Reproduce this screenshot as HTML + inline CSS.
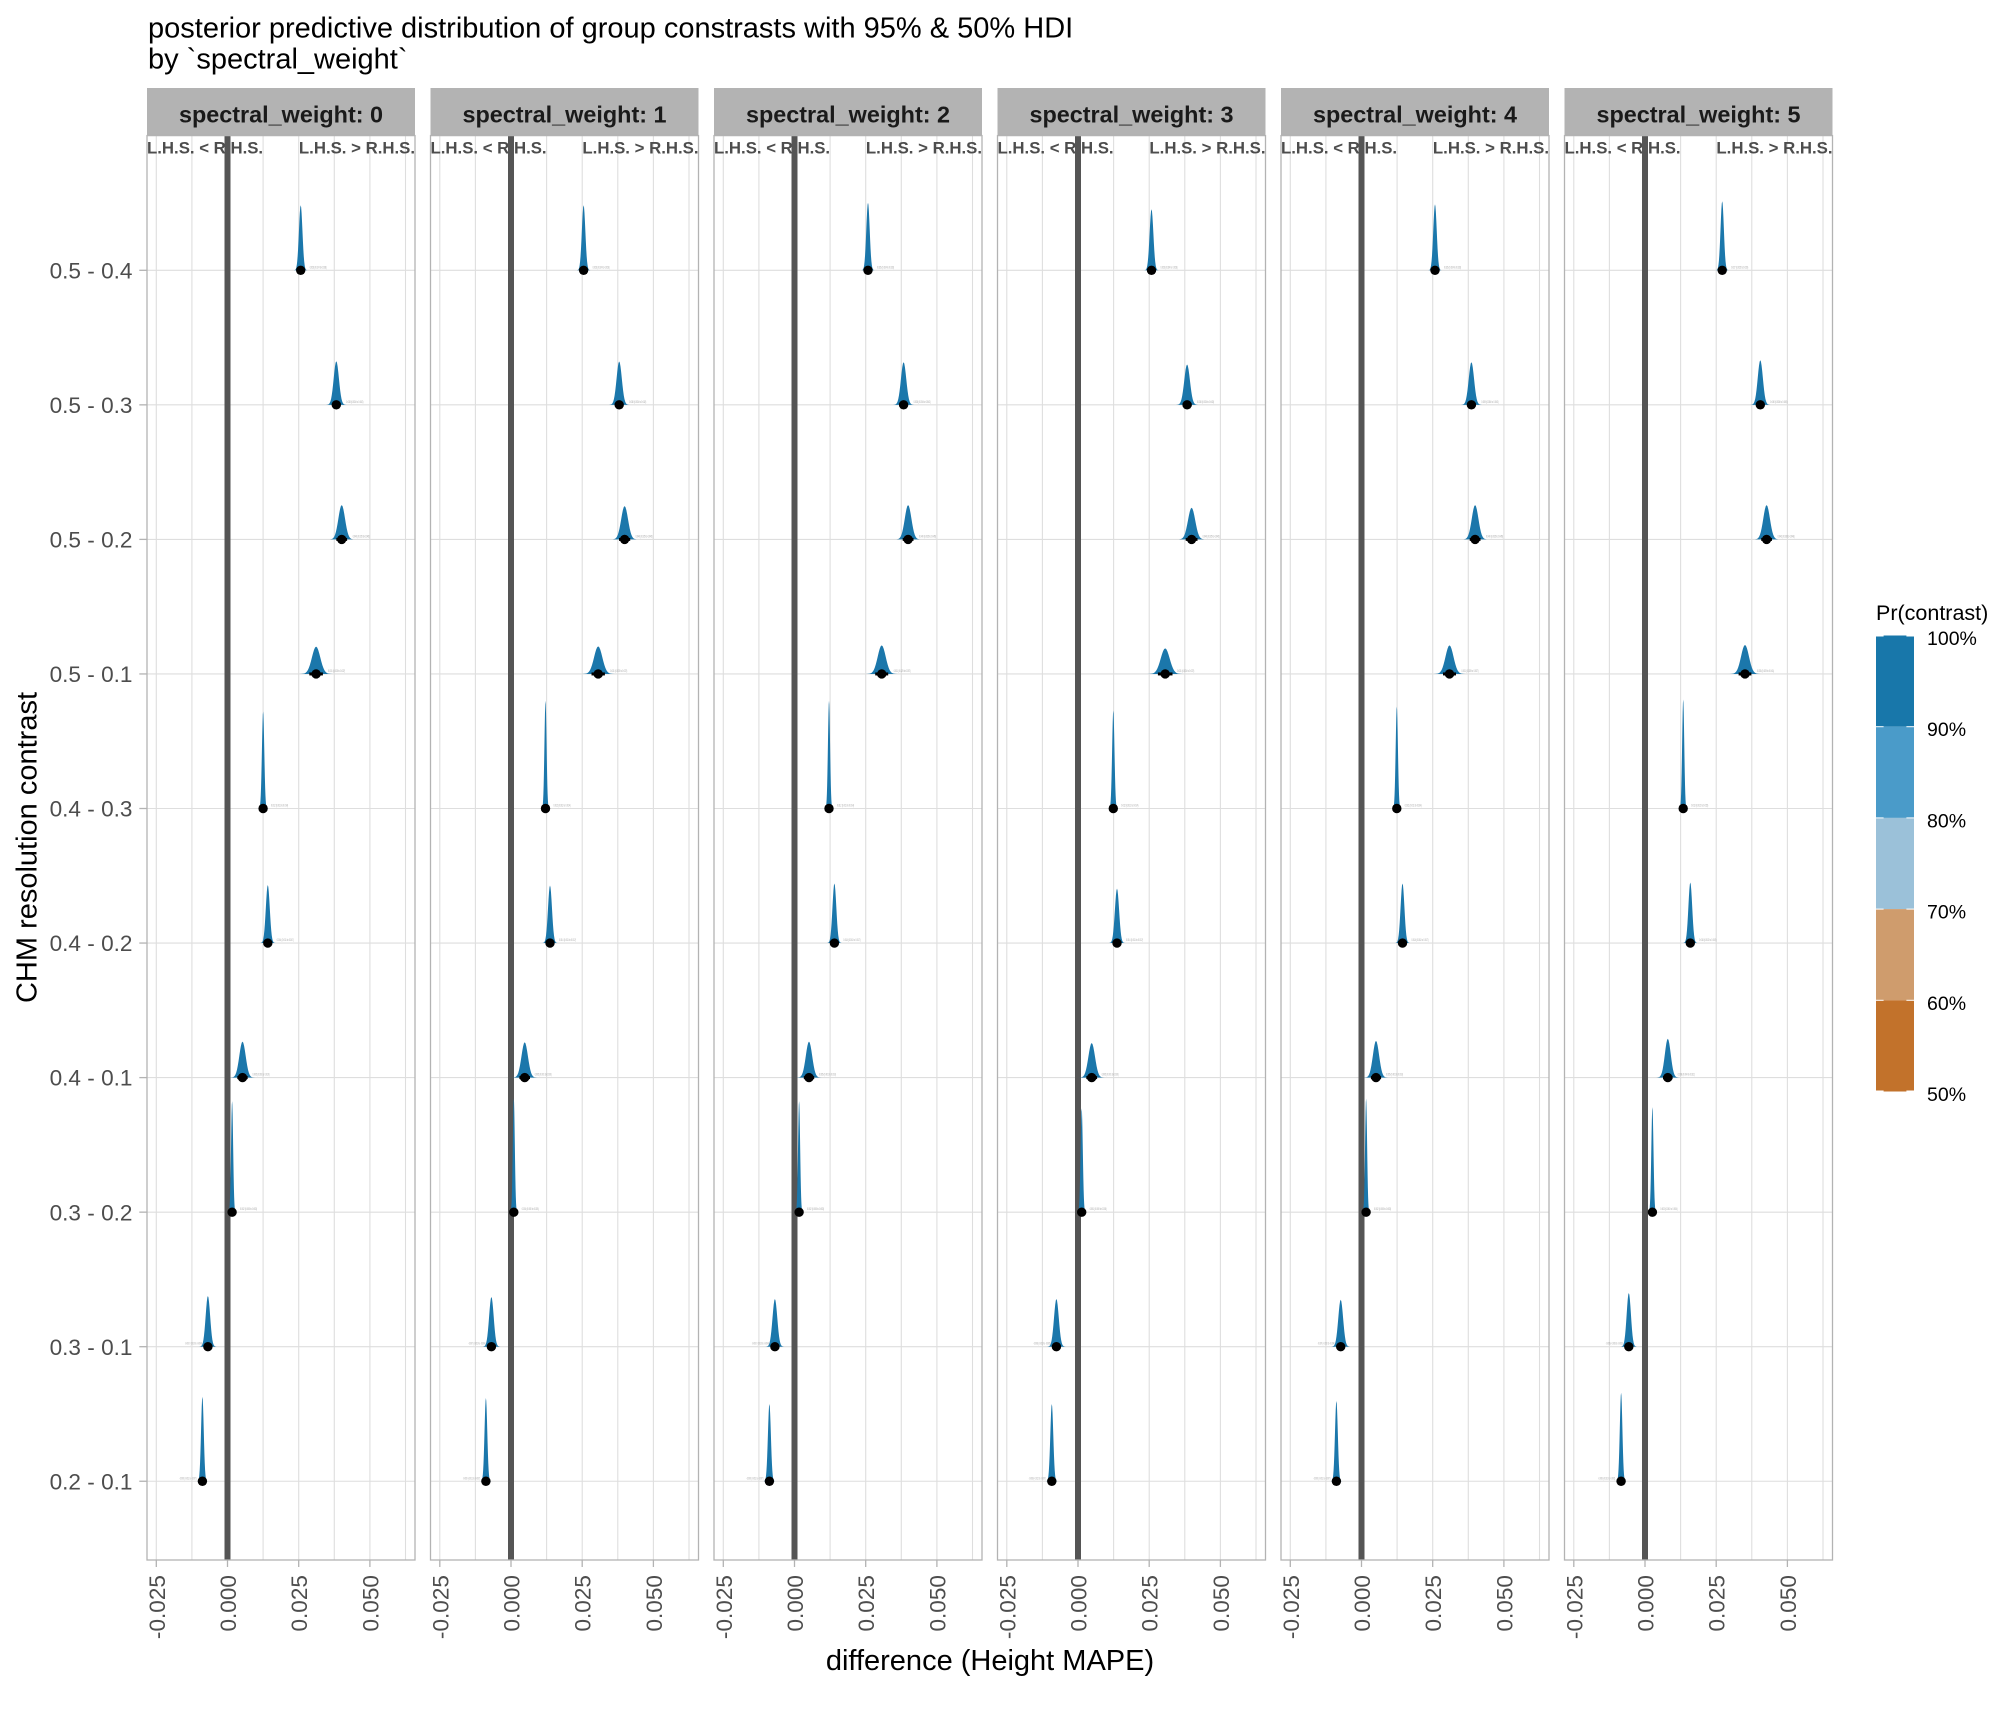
<!DOCTYPE html>
<html><head><meta charset="utf-8"><style>
html,body{margin:0;padding:0;background:#fff;}
svg{display:block;font-family:"Liberation Sans",Arial,sans-serif;}
.gm{stroke:#dedede;stroke-width:1.1;}
.tk{stroke:#b3b3b3;stroke-width:1.3;}
.ax{font-size:22.6px;fill:#4d4d4d;}
.st{font-size:23.4px;font-weight:bold;fill:#1a1a1a;text-anchor:middle;}
.lh{font-size:16.8px;font-weight:bold;fill:#4d4d4d;}
.i95{stroke:#000;stroke-width:3;}
.tl{font-size:3.6px;fill:#a0a0a0;}
.d{fill:#1b77ab;}
</style></head><body>
<svg xmlns="http://www.w3.org/2000/svg" xmlns:xlink="http://www.w3.org/1999/xlink" width="2016" height="1728" viewBox="0 0 2016 1728">
<defs>
<path id="g" d="M-4.8,0 L-4.2,-0.0022 L-3.6,-0.0111 L-3.3,-0.0228 L-3,-0.0439 L-2.7,-0.0796 L-2.4,-0.1353 L-2.1,-0.2163 L-1.8,-0.3247 L-1.5,-0.4578 L-1.2,-0.6065 L-0.9,-0.7548 L-0.6,-0.8825 L-0.3,-0.9692 L0,-1 L0.3,-0.9692 L0.6,-0.8825 L0.9,-0.7548 L1.2,-0.6065 L1.5,-0.4578 L1.8,-0.3247 L2.1,-0.2163 L2.4,-0.1353 L2.7,-0.0796 L3,-0.0439 L3.3,-0.0228 L3.6,-0.0111 L4.2,-0.0022 L4.8,0 Z"/>
<g id="frame">
<rect x="147" y="88" width="268" height="47.5" fill="#b3b3b3"/>
<g class="gm">
<line x1="156.3" y1="136" x2="156.3" y2="1560"/>
<line x1="191.9" y1="136" x2="191.9" y2="1560"/>
<line x1="227.5" y1="136" x2="227.5" y2="1560"/>
<line x1="263.1" y1="136" x2="263.1" y2="1560"/>
<line x1="298.7" y1="136" x2="298.7" y2="1560"/>
<line x1="334.3" y1="136" x2="334.3" y2="1560"/>
<line x1="369.9" y1="136" x2="369.9" y2="1560"/>
<line x1="405.5" y1="136" x2="405.5" y2="1560"/>
<line x1="147" y1="270.3" x2="415" y2="270.3"/>
<line x1="147" y1="404.85" x2="415" y2="404.85"/>
<line x1="147" y1="539.4" x2="415" y2="539.4"/>
<line x1="147" y1="673.95" x2="415" y2="673.95"/>
<line x1="147" y1="808.5" x2="415" y2="808.5"/>
<line x1="147" y1="943.05" x2="415" y2="943.05"/>
<line x1="147" y1="1077.6" x2="415" y2="1077.6"/>
<line x1="147" y1="1212.15" x2="415" y2="1212.15"/>
<line x1="147" y1="1346.7" x2="415" y2="1346.7"/>
<line x1="147" y1="1481.25" x2="415" y2="1481.25"/>
</g>
<g class="tk">
<line x1="156.3" y1="1560" x2="156.3" y2="1567"/>
<line x1="227.5" y1="1560" x2="227.5" y2="1567"/>
<line x1="298.7" y1="1560" x2="298.7" y2="1567"/>
<line x1="369.9" y1="1560" x2="369.9" y2="1567"/>
</g>
</g>
<g id="zl"><rect x="224.5" y="136" width="6" height="1424" fill="#555555"/></g>
<g id="bd"><rect x="147" y="135.6" width="268" height="1424.4" fill="none" stroke="#b3b3b3" stroke-width="1.3"/></g>
</defs>
<rect width="2016" height="1728" fill="#fff"/>

<!-- title -->
<text x="148" y="37.5" font-size="29" fill="#000">posterior predictive distribution of group constrasts with 95% &amp; 50% HDI</text>
<text x="148" y="68.5" font-size="29" fill="#000">by `spectral_weight`</text>

<!-- panel frames -->
<use xlink:href="#frame"/>
<use xlink:href="#frame" transform="translate(283.5,0)"/>
<use xlink:href="#frame" transform="translate(567,0)"/>
<use xlink:href="#frame" transform="translate(850.5,0)"/>
<use xlink:href="#frame" transform="translate(1134,0)"/>
<use xlink:href="#frame" transform="translate(1417.5,0)"/>

<!-- strip text -->
<text class="st" x="281" y="122.7">spectral_weight: 0</text>
<text class="st" x="564.5" y="122.7">spectral_weight: 1</text>
<text class="st" x="848" y="122.7">spectral_weight: 2</text>
<text class="st" x="1131.5" y="122.7">spectral_weight: 3</text>
<text class="st" x="1415" y="122.7">spectral_weight: 4</text>
<text class="st" x="1698.5" y="122.7">spectral_weight: 5</text>

<!-- LHS/RHS labels -->
<g class="lh">
<text x="147" y="153.5">L.H.S. &lt; R.H.S.</text><text x="415" y="153.5" text-anchor="end">L.H.S. &gt; R.H.S.</text>
<text x="430.5" y="153.5">L.H.S. &lt; R.H.S.</text><text x="698.5" y="153.5" text-anchor="end">L.H.S. &gt; R.H.S.</text>
<text x="714" y="153.5">L.H.S. &lt; R.H.S.</text><text x="982" y="153.5" text-anchor="end">L.H.S. &gt; R.H.S.</text>
<text x="997.5" y="153.5">L.H.S. &lt; R.H.S.</text><text x="1265.5" y="153.5" text-anchor="end">L.H.S. &gt; R.H.S.</text>
<text x="1281" y="153.5">L.H.S. &lt; R.H.S.</text><text x="1549" y="153.5" text-anchor="end">L.H.S. &gt; R.H.S.</text>
<text x="1564.5" y="153.5">L.H.S. &lt; R.H.S.</text><text x="1832.5" y="153.5" text-anchor="end">L.H.S. &gt; R.H.S.</text>
</g>

<!-- zero lines -->
<use xlink:href="#zl"/>
<use xlink:href="#zl" transform="translate(283.5,0)"/>
<use xlink:href="#zl" transform="translate(567,0)"/>
<use xlink:href="#zl" transform="translate(850.5,0)"/>
<use xlink:href="#zl" transform="translate(1134,0)"/>
<use xlink:href="#zl" transform="translate(1417.5,0)"/>

<!-- distributions: Panel 0 -->
<g>
<g transform="translate(300.7,270.3)"><use class="d" xlink:href="#g" transform="scale(1.46,65)"/><path class="i95" d="M-2.9,0H2.9"/><circle r="4.7"/><text class="tl" x="9" y="-2" textLength="17" lengthAdjust="spacingAndGlyphs">0.026 (0.024 to 0.028)</text></g>
<g transform="translate(336.3,404.85)"><use class="d" xlink:href="#g" transform="scale(2.18,43.6)"/><path class="i95" d="M-4.3,0H4.3"/><circle r="4.7"/><text class="tl" x="10" y="-2" textLength="17" lengthAdjust="spacingAndGlyphs">0.038 (0.034 to 0.042)</text></g>
<g transform="translate(341.7,539.4)"><use class="d" xlink:href="#g" transform="scale(2.77,34.3)"/><path class="i95" d="M-5.4,0H5.4"/><circle r="4.7"/><text class="tl" x="11" y="-2" textLength="17" lengthAdjust="spacingAndGlyphs">0.040 (0.035 to 0.045)</text></g>
<g transform="translate(316.1,673.95)"><use class="d" xlink:href="#g" transform="scale(3.48,27.3)"/><path class="i95" d="M-6.8,0H6.8"/><circle r="4.7"/><text class="tl" x="12" y="-2" textLength="17" lengthAdjust="spacingAndGlyphs">0.031 (0.025 to 0.037)</text></g>
<g transform="translate(263.1,808.5)"><use class="d" xlink:href="#g" transform="scale(0.98,97)"/><path class="i95" d="M-1.9,0H1.9"/><circle r="4.7"/><text class="tl" x="8" y="-2" textLength="17" lengthAdjust="spacingAndGlyphs">0.012 (0.011 to 0.014)</text></g>
<g transform="translate(267.8,943.05)"><use class="d" xlink:href="#g" transform="scale(1.64,58)"/><path class="i95" d="M-3.2,0H3.2"/><circle r="4.7"/><text class="tl" x="9" y="-2" textLength="17" lengthAdjust="spacingAndGlyphs">0.014 (0.011 to 0.017)</text></g>
<g transform="translate(242.5,1077.6)"><use class="d" xlink:href="#g" transform="scale(2.64,36)"/><path class="i95" d="M-5.2,0H5.2"/><circle r="4.7"/><text class="tl" x="10" y="-2" textLength="17" lengthAdjust="spacingAndGlyphs">0.005 (0.001 to 0.010)</text></g>
<g transform="translate(232.1,1212.15)"><use class="d" xlink:href="#g" transform="scale(0.86,111)"/><path class="i95" d="M-1.7,0H1.7"/><circle r="4.7"/><text class="tl" x="8" y="-2" textLength="17" lengthAdjust="spacingAndGlyphs">0.002 (0.000 to 0.003)</text></g>
<g transform="translate(207.9,1346.7)"><use class="d" xlink:href="#g" transform="scale(1.87,50.7)"/><path class="i95" d="M-3.7,0H3.7"/><circle r="4.7"/><text class="tl" x="-6" y="-2" text-anchor="end" textLength="17" lengthAdjust="spacingAndGlyphs">-0.007 (-0.010 to -0.004)</text></g>
<g transform="translate(202.4,1481.25)"><use class="d" xlink:href="#g" transform="scale(1.12,84.5)"/><path class="i95" d="M-2.2,0H2.2"/><circle r="4.7"/><text class="tl" x="-6" y="-2" text-anchor="end" textLength="17" lengthAdjust="spacingAndGlyphs">-0.009 (-0.011 to -0.007)</text></g>
</g>

<!-- Panel 1 -->
<g transform="translate(-1,0)">
<g transform="translate(584.6,270.3)"><use class="d" xlink:href="#g" transform="scale(1.46,65)"/><path class="i95" d="M-2.9,0H2.9"/><circle r="4.7"/><text class="tl" x="9" y="-2" textLength="17" lengthAdjust="spacingAndGlyphs">0.026 (0.024 to 0.028)</text></g>
<g transform="translate(620.2,404.85)"><use class="d" xlink:href="#g" transform="scale(2.19,43.3)"/><path class="i95" d="M-4.3,0H4.3"/><circle r="4.7"/><text class="tl" x="10" y="-2" textLength="17" lengthAdjust="spacingAndGlyphs">0.038 (0.034 to 0.042)</text></g>
<g transform="translate(625.6,539.4)"><use class="d" xlink:href="#g" transform="scale(2.85,33.3)"/><path class="i95" d="M-5.6,0H5.6"/><circle r="4.7"/><text class="tl" x="11" y="-2" textLength="17" lengthAdjust="spacingAndGlyphs">0.040 (0.035 to 0.045)</text></g>
<g transform="translate(599.2,673.95)"><use class="d" xlink:href="#g" transform="scale(3.44,27.6)"/><path class="i95" d="M-6.7,0H6.7"/><circle r="4.7"/><text class="tl" x="12" y="-2" textLength="17" lengthAdjust="spacingAndGlyphs">0.031 (0.025 to 0.037)</text></g>
<g transform="translate(546.5,808.5)"><use class="d" xlink:href="#g" transform="scale(0.88,107.7)"/><path class="i95" d="M-1.7,0H1.7"/><circle r="4.7"/><text class="tl" x="8" y="-2" textLength="17" lengthAdjust="spacingAndGlyphs">0.012 (0.011 to 0.014)</text></g>
<g transform="translate(551,943.05)"><use class="d" xlink:href="#g" transform="scale(1.65,57.5)"/><path class="i95" d="M-3.2,0H3.2"/><circle r="4.7"/><text class="tl" x="9" y="-2" textLength="17" lengthAdjust="spacingAndGlyphs">0.014 (0.011 to 0.017)</text></g>
<g transform="translate(525.7,1077.6)"><use class="d" xlink:href="#g" transform="scale(2.69,35.3)"/><path class="i95" d="M-5.3,0H5.3"/><circle r="4.7"/><text class="tl" x="10" y="-2" textLength="17" lengthAdjust="spacingAndGlyphs">0.005 (0.001 to 0.010)</text></g>
<g transform="translate(514.8,1212.15)"><use class="d" xlink:href="#g" transform="scale(0.84,113.5)"/><path class="i95" d="M-1.6,0H1.6"/><circle r="4.7"/><text class="tl" x="8" y="-2" textLength="17" lengthAdjust="spacingAndGlyphs">0.001 (0.000 to 0.003)</text></g>
<g transform="translate(492.4,1346.7)"><use class="d" xlink:href="#g" transform="scale(1.91,49.7)"/><path class="i95" d="M-3.7,0H3.7"/><circle r="4.7"/><text class="tl" x="-6" y="-2" text-anchor="end" textLength="17" lengthAdjust="spacingAndGlyphs">-0.007 (-0.010 to -0.004)</text></g>
<g transform="translate(486.9,1481.25)"><use class="d" xlink:href="#g" transform="scale(1.14,83.2)"/><path class="i95" d="M-2.2,0H2.2"/><circle r="4.7"/><text class="tl" x="-6" y="-2" text-anchor="end" textLength="17" lengthAdjust="spacingAndGlyphs">-0.009 (-0.011 to -0.007)</text></g>
</g>

<!-- Panel 2 -->
<g transform="translate(-2,0)">
<g transform="translate(870,270.3)"><use class="d" xlink:href="#g" transform="scale(1.41,67.6)"/><path class="i95" d="M-2.8,0H2.8"/><circle r="4.7"/><text class="tl" x="9" y="-2" textLength="17" lengthAdjust="spacingAndGlyphs">0.026 (0.024 to 0.028)</text></g>
<g transform="translate(905.6,404.85)"><use class="d" xlink:href="#g" transform="scale(2.23,42.6)"/><path class="i95" d="M-4.4,0H4.4"/><circle r="4.7"/><text class="tl" x="10" y="-2" textLength="17" lengthAdjust="spacingAndGlyphs">0.038 (0.034 to 0.042)</text></g>
<g transform="translate(910.1,539.4)"><use class="d" xlink:href="#g" transform="scale(2.77,34.3)"/><path class="i95" d="M-5.4,0H5.4"/><circle r="4.7"/><text class="tl" x="11" y="-2" textLength="17" lengthAdjust="spacingAndGlyphs">0.040 (0.035 to 0.045)</text></g>
<g transform="translate(883.7,673.95)"><use class="d" xlink:href="#g" transform="scale(3.32,28.6)"/><path class="i95" d="M-6.5,0H6.5"/><circle r="4.7"/><text class="tl" x="12" y="-2" textLength="17" lengthAdjust="spacingAndGlyphs">0.031 (0.025 to 0.037)</text></g>
<g transform="translate(831,808.5)"><use class="d" xlink:href="#g" transform="scale(0.88,107.7)"/><path class="i95" d="M-1.7,0H1.7"/><circle r="4.7"/><text class="tl" x="8" y="-2" textLength="17" lengthAdjust="spacingAndGlyphs">0.012 (0.011 to 0.014)</text></g>
<g transform="translate(836.4,943.05)"><use class="d" xlink:href="#g" transform="scale(1.59,59.6)"/><path class="i95" d="M-3.1,0H3.1"/><circle r="4.7"/><text class="tl" x="9" y="-2" textLength="17" lengthAdjust="spacingAndGlyphs">0.014 (0.011 to 0.017)</text></g>
<g transform="translate(811,1077.6)"><use class="d" xlink:href="#g" transform="scale(2.64,36)"/><path class="i95" d="M-5.2,0H5.2"/><circle r="4.7"/><text class="tl" x="10" y="-2" textLength="17" lengthAdjust="spacingAndGlyphs">0.005 (0.001 to 0.010)</text></g>
<g transform="translate(801.1,1212.15)"><use class="d" xlink:href="#g" transform="scale(0.86,111)"/><path class="i95" d="M-1.7,0H1.7"/><circle r="4.7"/><text class="tl" x="8" y="-2" textLength="17" lengthAdjust="spacingAndGlyphs">0.002 (0.000 to 0.003)</text></g>
<g transform="translate(776.9,1346.7)"><use class="d" xlink:href="#g" transform="scale(1.99,47.7)"/><path class="i95" d="M-3.9,0H3.9"/><circle r="4.7"/><text class="tl" x="-6" y="-2" text-anchor="end" textLength="17" lengthAdjust="spacingAndGlyphs">-0.007 (-0.010 to -0.004)</text></g>
<g transform="translate(771.4,1481.25)"><use class="d" xlink:href="#g" transform="scale(1.23,77.2)"/><path class="i95" d="M-2.4,0H2.4"/><circle r="4.7"/><text class="tl" x="-6" y="-2" text-anchor="end" textLength="17" lengthAdjust="spacingAndGlyphs">-0.009 (-0.011 to -0.007)</text></g>
</g>

<!-- Panel 3 -->
<g transform="translate(-3,0)">
<g transform="translate(1154.5,270.3)"><use class="d" xlink:href="#g" transform="scale(1.56,61)"/><path class="i95" d="M-3.1,0H3.1"/><circle r="4.7"/><text class="tl" x="9" y="-2" textLength="17" lengthAdjust="spacingAndGlyphs">0.026 (0.024 to 0.028)</text></g>
<g transform="translate(1190.1,404.85)"><use class="d" xlink:href="#g" transform="scale(2.36,40.3)"/><path class="i95" d="M-4.6,0H4.6"/><circle r="4.7"/><text class="tl" x="10" y="-2" textLength="17" lengthAdjust="spacingAndGlyphs">0.038 (0.034 to 0.043)</text></g>
<g transform="translate(1194.6,539.4)"><use class="d" xlink:href="#g" transform="scale(3,31.6)"/><path class="i95" d="M-5.9,0H5.9"/><circle r="4.7"/><text class="tl" x="11" y="-2" textLength="17" lengthAdjust="spacingAndGlyphs">0.040 (0.035 to 0.045)</text></g>
<g transform="translate(1168.2,673.95)"><use class="d" xlink:href="#g" transform="scale(3.71,25.6)"/><path class="i95" d="M-7.3,0H7.3"/><circle r="4.7"/><text class="tl" x="12" y="-2" textLength="17" lengthAdjust="spacingAndGlyphs">0.031 (0.024 to 0.037)</text></g>
<g transform="translate(1116.3,808.5)"><use class="d" xlink:href="#g" transform="scale(0.97,98)"/><path class="i95" d="M-1.9,0H1.9"/><circle r="4.7"/><text class="tl" x="8" y="-2" textLength="17" lengthAdjust="spacingAndGlyphs">0.012 (0.011 to 0.014)</text></g>
<g transform="translate(1120,943.05)"><use class="d" xlink:href="#g" transform="scale(1.75,54.4)"/><path class="i95" d="M-3.4,0H3.4"/><circle r="4.7"/><text class="tl" x="9" y="-2" textLength="17" lengthAdjust="spacingAndGlyphs">0.014 (0.011 to 0.017)</text></g>
<g transform="translate(1094.7,1077.6)"><use class="d" xlink:href="#g" transform="scale(2.75,34.6)"/><path class="i95" d="M-5.4,0H5.4"/><circle r="4.7"/><text class="tl" x="10" y="-2" textLength="17" lengthAdjust="spacingAndGlyphs">0.005 (0.001 to 0.010)</text></g>
<g transform="translate(1084.7,1212.15)"><use class="d" xlink:href="#g" transform="scale(0.92,103.8)"/><path class="i95" d="M-1.8,0H1.8"/><circle r="4.7"/><text class="tl" x="8" y="-2" textLength="17" lengthAdjust="spacingAndGlyphs">0.001 (0.000 to 0.003)</text></g>
<g transform="translate(1059.4,1346.7)"><use class="d" xlink:href="#g" transform="scale(1.99,47.7)"/><path class="i95" d="M-3.9,0H3.9"/><circle r="4.7"/><text class="tl" x="-6" y="-2" text-anchor="end" textLength="17" lengthAdjust="spacingAndGlyphs">-0.008 (-0.010 to -0.005)</text></g>
<g transform="translate(1054.8,1481.25)"><use class="d" xlink:href="#g" transform="scale(1.23,77.2)"/><path class="i95" d="M-2.4,0H2.4"/><circle r="4.7"/><text class="tl" x="-6" y="-2" text-anchor="end" textLength="17" lengthAdjust="spacingAndGlyphs">-0.009 (-0.012 to -0.007)</text></g>
</g>

<!-- Panel 4 -->
<g transform="translate(-4,0)">
<g transform="translate(1439,270.3)"><use class="d" xlink:href="#g" transform="scale(1.44,66)"/><path class="i95" d="M-2.8,0H2.8"/><circle r="4.7"/><text class="tl" x="9" y="-2" textLength="17" lengthAdjust="spacingAndGlyphs">0.026 (0.024 to 0.028)</text></g>
<g transform="translate(1475.4,404.85)"><use class="d" xlink:href="#g" transform="scale(2.23,42.6)"/><path class="i95" d="M-4.4,0H4.4"/><circle r="4.7"/><text class="tl" x="10" y="-2" textLength="17" lengthAdjust="spacingAndGlyphs">0.039 (0.034 to 0.043)</text></g>
<g transform="translate(1479.1,539.4)"><use class="d" xlink:href="#g" transform="scale(2.77,34.3)"/><path class="i95" d="M-5.4,0H5.4"/><circle r="4.7"/><text class="tl" x="11" y="-2" textLength="17" lengthAdjust="spacingAndGlyphs">0.040 (0.035 to 0.045)</text></g>
<g transform="translate(1453.5,673.95)"><use class="d" xlink:href="#g" transform="scale(3.32,28.6)"/><path class="i95" d="M-6.5,0H6.5"/><circle r="4.7"/><text class="tl" x="12" y="-2" textLength="17" lengthAdjust="spacingAndGlyphs">0.031 (0.025 to 0.037)</text></g>
<g transform="translate(1400.8,808.5)"><use class="d" xlink:href="#g" transform="scale(0.93,102)"/><path class="i95" d="M-1.8,0H1.8"/><circle r="4.7"/><text class="tl" x="8" y="-2" textLength="17" lengthAdjust="spacingAndGlyphs">0.012 (0.011 to 0.014)</text></g>
<g transform="translate(1406.5,943.05)"><use class="d" xlink:href="#g" transform="scale(1.59,59.6)"/><path class="i95" d="M-3.1,0H3.1"/><circle r="4.7"/><text class="tl" x="9" y="-2" textLength="17" lengthAdjust="spacingAndGlyphs">0.014 (0.011 to 0.017)</text></g>
<g transform="translate(1380,1077.6)"><use class="d" xlink:href="#g" transform="scale(2.59,36.7)"/><path class="i95" d="M-5.1,0H5.1"/><circle r="4.7"/><text class="tl" x="10" y="-2" textLength="17" lengthAdjust="spacingAndGlyphs">0.005 (0.001 to 0.010)</text></g>
<g transform="translate(1370.1,1212.15)"><use class="d" xlink:href="#g" transform="scale(0.84,113.5)"/><path class="i95" d="M-1.6,0H1.6"/><circle r="4.7"/><text class="tl" x="8" y="-2" textLength="17" lengthAdjust="spacingAndGlyphs">0.002 (0.000 to 0.003)</text></g>
<g transform="translate(1344.7,1346.7)"><use class="d" xlink:href="#g" transform="scale(2.02,47)"/><path class="i95" d="M-4,0H4"/><circle r="4.7"/><text class="tl" x="-6" y="-2" text-anchor="end" textLength="17" lengthAdjust="spacingAndGlyphs">-0.007 (-0.010 to -0.004)</text></g>
<g transform="translate(1340.4,1481.25)"><use class="d" xlink:href="#g" transform="scale(1.18,80.2)"/><path class="i95" d="M-2.3,0H2.3"/><circle r="4.7"/><text class="tl" x="-6" y="-2" text-anchor="end" textLength="17" lengthAdjust="spacingAndGlyphs">-0.009 (-0.011 to -0.007)</text></g>
</g>

<!-- Panel 5 -->
<g transform="translate(-5,0)">
<g transform="translate(1727.2,270.3)"><use class="d" xlink:href="#g" transform="scale(1.38,69)"/><path class="i95" d="M-2.7,0H2.7"/><circle r="4.7"/><text class="tl" x="9" y="-2" textLength="17" lengthAdjust="spacingAndGlyphs">0.027 (0.025 to 0.029)</text></g>
<g transform="translate(1765.3,404.85)"><use class="d" xlink:href="#g" transform="scale(2.13,44.6)"/><path class="i95" d="M-4.2,0H4.2"/><circle r="4.7"/><text class="tl" x="10" y="-2" textLength="17" lengthAdjust="spacingAndGlyphs">0.040 (0.036 to 0.045)</text></g>
<g transform="translate(1771.6,539.4)"><use class="d" xlink:href="#g" transform="scale(2.77,34.3)"/><path class="i95" d="M-5.4,0H5.4"/><circle r="4.7"/><text class="tl" x="11" y="-2" textLength="17" lengthAdjust="spacingAndGlyphs">0.043 (0.038 to 0.048)</text></g>
<g transform="translate(1750,673.95)"><use class="d" xlink:href="#g" transform="scale(3.28,29)"/><path class="i95" d="M-6.4,0H6.4"/><circle r="4.7"/><text class="tl" x="12" y="-2" textLength="17" lengthAdjust="spacingAndGlyphs">0.035 (0.029 to 0.041)</text></g>
<g transform="translate(1688.2,808.5)"><use class="d" xlink:href="#g" transform="scale(0.87,109)"/><path class="i95" d="M-1.7,0H1.7"/><circle r="4.7"/><text class="tl" x="8" y="-2" textLength="17" lengthAdjust="spacingAndGlyphs">0.013 (0.012 to 0.015)</text></g>
<g transform="translate(1695.3,943.05)"><use class="d" xlink:href="#g" transform="scale(1.57,60.6)"/><path class="i95" d="M-3.1,0H3.1"/><circle r="4.7"/><text class="tl" x="9" y="-2" textLength="17" lengthAdjust="spacingAndGlyphs">0.016 (0.013 to 0.019)</text></g>
<g transform="translate(1672.8,1077.6)"><use class="d" xlink:href="#g" transform="scale(2.45,38.8)"/><path class="i95" d="M-4.8,0H4.8"/><circle r="4.7"/><text class="tl" x="10" y="-2" textLength="17" lengthAdjust="spacingAndGlyphs">0.008 (0.004 to 0.012)</text></g>
<g transform="translate(1657.4,1212.15)"><use class="d" xlink:href="#g" transform="scale(0.9,105)"/><path class="i95" d="M-1.8,0H1.8"/><circle r="4.7"/><text class="tl" x="8" y="-2" textLength="17" lengthAdjust="spacingAndGlyphs">0.003 (0.001 to 0.004)</text></g>
<g transform="translate(1633.8,1346.7)"><use class="d" xlink:href="#g" transform="scale(1.77,53.7)"/><path class="i95" d="M-3.5,0H3.5"/><circle r="4.7"/><text class="tl" x="-6" y="-2" text-anchor="end" textLength="17" lengthAdjust="spacingAndGlyphs">-0.006 (-0.008 to -0.003)</text></g>
<g transform="translate(1626.1,1481.25)"><use class="d" xlink:href="#g" transform="scale(1.07,88.5)"/><path class="i95" d="M-2.1,0H2.1"/><circle r="4.7"/><text class="tl" x="-6" y="-2" text-anchor="end" textLength="17" lengthAdjust="spacingAndGlyphs">-0.008 (-0.011 to -0.006)</text></g>
</g>

<!-- panel borders -->
<use xlink:href="#bd"/>
<use xlink:href="#bd" transform="translate(283.5,0)"/>
<use xlink:href="#bd" transform="translate(567,0)"/>
<use xlink:href="#bd" transform="translate(850.5,0)"/>
<use xlink:href="#bd" transform="translate(1134,0)"/>
<use xlink:href="#bd" transform="translate(1417.5,0)"/>

<!-- y axis ticks & labels -->
<g class="tk">
<line x1="139.3" y1="270.3" x2="147" y2="270.3"/>
<line x1="139.3" y1="404.85" x2="147" y2="404.85"/>
<line x1="139.3" y1="539.4" x2="147" y2="539.4"/>
<line x1="139.3" y1="673.95" x2="147" y2="673.95"/>
<line x1="139.3" y1="808.5" x2="147" y2="808.5"/>
<line x1="139.3" y1="943.05" x2="147" y2="943.05"/>
<line x1="139.3" y1="1077.6" x2="147" y2="1077.6"/>
<line x1="139.3" y1="1212.15" x2="147" y2="1212.15"/>
<line x1="139.3" y1="1346.7" x2="147" y2="1346.7"/>
<line x1="139.3" y1="1481.25" x2="147" y2="1481.25"/>
</g>
<g class="ax" text-anchor="end">
<text x="132.5" y="278.4">0.5 - 0.4</text>
<text x="132.5" y="412.95">0.5 - 0.3</text>
<text x="132.5" y="547.5">0.5 - 0.2</text>
<text x="132.5" y="682.05">0.5 - 0.1</text>
<text x="132.5" y="816.6">0.4 - 0.3</text>
<text x="132.5" y="951.15">0.4 - 0.2</text>
<text x="132.5" y="1085.7">0.4 - 0.1</text>
<text x="132.5" y="1220.25">0.3 - 0.2</text>
<text x="132.5" y="1354.8">0.3 - 0.1</text>
<text x="132.5" y="1489.35">0.2 - 0.1</text>
</g>

<!-- x axis tick labels -->
<g class="ax" text-anchor="end">
<text transform="translate(164.8,1575) rotate(-90)">-0.025</text>
<text transform="translate(236,1575) rotate(-90)">0.000</text>
<text transform="translate(307.2,1575) rotate(-90)">0.025</text>
<text transform="translate(378.4,1575) rotate(-90)">0.050</text>
<text transform="translate(448.3,1575) rotate(-90)">-0.025</text>
<text transform="translate(519.5,1575) rotate(-90)">0.000</text>
<text transform="translate(590.7,1575) rotate(-90)">0.025</text>
<text transform="translate(661.9,1575) rotate(-90)">0.050</text>
<text transform="translate(731.8,1575) rotate(-90)">-0.025</text>
<text transform="translate(803,1575) rotate(-90)">0.000</text>
<text transform="translate(874.2,1575) rotate(-90)">0.025</text>
<text transform="translate(945.4,1575) rotate(-90)">0.050</text>
<text transform="translate(1015.3,1575) rotate(-90)">-0.025</text>
<text transform="translate(1086.5,1575) rotate(-90)">0.000</text>
<text transform="translate(1157.7,1575) rotate(-90)">0.025</text>
<text transform="translate(1228.9,1575) rotate(-90)">0.050</text>
<text transform="translate(1298.8,1575) rotate(-90)">-0.025</text>
<text transform="translate(1370,1575) rotate(-90)">0.000</text>
<text transform="translate(1441.2,1575) rotate(-90)">0.025</text>
<text transform="translate(1512.4,1575) rotate(-90)">0.050</text>
<text transform="translate(1582.3,1575) rotate(-90)">-0.025</text>
<text transform="translate(1653.5,1575) rotate(-90)">0.000</text>
<text transform="translate(1724.7,1575) rotate(-90)">0.025</text>
<text transform="translate(1795.9,1575) rotate(-90)">0.050</text>
</g>

<!-- axis titles -->
<text x="990" y="1670" font-size="29" text-anchor="middle" fill="#000">difference (Height MAPE)</text>
<text transform="translate(36.5,847.5) rotate(-90)" font-size="29" text-anchor="middle" fill="#000">CHM resolution contrast</text>

<!-- legend -->
<text x="1876" y="620" font-size="21.5" fill="#000">Pr(contrast)</text>
<rect x="1876" y="635.5" width="38" height="91.2" fill="#1877aa"/>
<rect x="1876" y="726.7" width="38" height="91.2" fill="#4a9bc9"/>
<rect x="1876" y="817.9" width="38" height="91.2" fill="#9bc1d9"/>
<rect x="1876" y="909.1" width="38" height="91.2" fill="#cf9c6d"/>
<rect x="1876" y="1000.3" width="38" height="91.2" fill="#c2722b"/>
<g stroke="#fff" stroke-width="1">
<line x1="1876" y1="636" x2="1883.6" y2="636"/><line x1="1906.4" y1="636" x2="1914" y2="636"/>
<line x1="1876" y1="726.7" x2="1883.6" y2="726.7"/><line x1="1906.4" y1="726.7" x2="1914" y2="726.7"/>
<line x1="1876" y1="817.9" x2="1883.6" y2="817.9"/><line x1="1906.4" y1="817.9" x2="1914" y2="817.9"/>
<line x1="1876" y1="909.1" x2="1883.6" y2="909.1"/><line x1="1906.4" y1="909.1" x2="1914" y2="909.1"/>
<line x1="1876" y1="1000.3" x2="1883.6" y2="1000.3"/><line x1="1906.4" y1="1000.3" x2="1914" y2="1000.3"/>
<line x1="1876" y1="1091" x2="1883.6" y2="1091"/><line x1="1906.4" y1="1091" x2="1914" y2="1091"/>
</g>
<g font-size="19.5" fill="#000">
<text x="1927" y="645">100%</text>
<text x="1927" y="736.2">90%</text>
<text x="1927" y="827.4">80%</text>
<text x="1927" y="918.6">70%</text>
<text x="1927" y="1009.8">60%</text>
<text x="1927" y="1101">50%</text>
</g>
</svg>
</body></html>
